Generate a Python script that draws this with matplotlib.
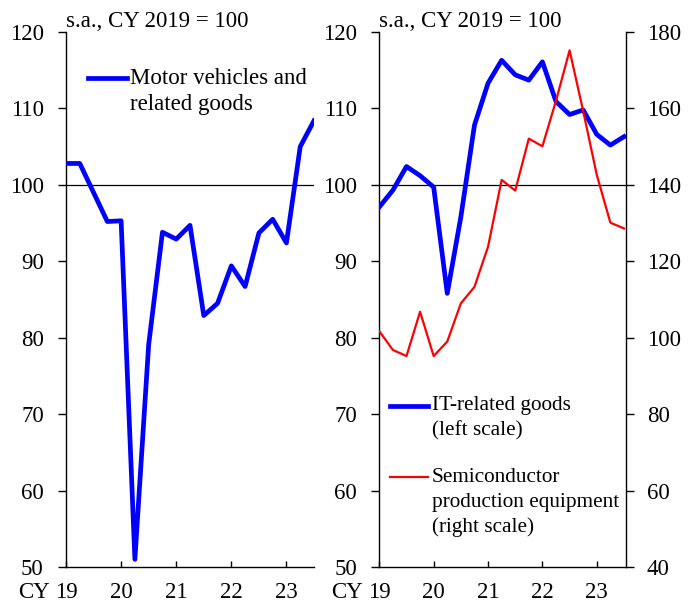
import matplotlib
matplotlib.use("Agg")
import matplotlib.pyplot as plt
from matplotlib.transforms import blended_transform_factory, offset_copy

plt.rcParams['font.family'] = ['Liberation Serif', 'DejaVu Serif']
FS = 16.5
FS_LEG2 = 15.3
XPAD = 11

# quarterly, CY2019 Q1 .. CY2023 Q3 (s.a., CY 2019 = 100)
quarters = list(range(19))
motor = [102.8, 102.8, 99.0, 95.2, 95.3, 51.0, 79.1, 93.8, 92.9, 94.7,
         82.9, 84.5, 89.4, 86.7, 93.7, 95.5, 92.4, 105.0, 108.4]
it_goods = [97.1, 99.3, 102.4, 101.2, 99.7, 85.8, 95.8, 107.8, 113.3, 116.3,
            114.4, 113.7, 116.1, 110.9, 109.2, 109.8, 106.6, 105.2, 106.3]
semicon = [101.7, 96.8, 95.2, 106.8, 95.2, 99.0, 109.0, 113.3, 123.8, 141.3,
           138.5, 152.1, 150.1, 162.0, 175.2, 159.3, 142.6, 130.1, 128.6]
year_ticks = [0, 4, 8, 12, 16]
year_labels = ['19', '20', '21', '22', '23']
left_ticks = [50, 60, 70, 80, 90, 100, 110, 120]
right_ticks = [40, 60, 80, 100, 120, 140, 160, 180]

fig = plt.figure(figsize=(6.91, 6.03), dpi=100)
ax1 = fig.add_axes([66 / 691, 1 - 567 / 603, 248 / 691, 535 / 603])
ax2 = fig.add_axes([379.3 / 691, 1 - 567 / 603, 246.7 / 691, 535 / 603])


def style_axis(ax, xmax):
    ax.set_xlim(0, xmax)
    ax.set_ylim(50, 120)
    ax.set_yticks(left_ticks)
    ax.set_xticks(year_ticks)
    ax.set_xticklabels(year_labels)
    ax.spines['top'].set_visible(False)
    ax.spines['right'].set_visible(False)
    for s in ax.spines.values():
        s.set_linewidth(1.0)
    ax.tick_params(axis='y', direction='out', length=6, width=1.0, pad=10,
                   labelsize=FS)
    ax.tick_params(axis='x', direction='in', length=4, width=1.0, pad=XPAD,
                   labelsize=FS)
    ax.axhline(100, color='black', linewidth=0.9, zorder=1)
    ax.text(0.0, 1.0, 's.a., CY 2019 = 100', transform=ax.transAxes,
            fontsize=FS, ha='left', va='bottom')
    tr = offset_copy(blended_transform_factory(ax.transData, ax.transAxes),
                     fig=fig, y=-XPAD, units='points')
    ax.text(-1.2, 0, 'CY', transform=tr, fontsize=FS, ha='right', va='top')


# left panel: motor vehicles
style_axis(ax1, 18)
ax1.plot(quarters, motor, color='#0000FF', linewidth=3.4, zorder=3)
ax1.plot([0.089, 0.246], [0.914, 0.914], color='#0000FF', linewidth=3.4,
         transform=ax1.transAxes)
ax1.text(0.258, 0.914, 'Motor vehicles and', transform=ax1.transAxes,
         fontsize=FS, va='center', ha='left')
ax1.text(0.258, 0.864, 'related goods', transform=ax1.transAxes,
         fontsize=FS, va='center', ha='left')

# right panel: IT-related goods and semiconductor equipment
style_axis(ax2, 18.15)
ax2.plot(quarters, it_goods, color='#0000FF', linewidth=3.4, zorder=3)
ax2r = ax2.twinx()
ax2r.set_position(ax2.get_position())
ax2r.set_ylim(40, 180)
ax2r.set_yticks(right_ticks)
ax2r.spines['top'].set_visible(False)
ax2r.spines['left'].set_visible(False)
ax2r.spines['bottom'].set_visible(False)
ax2r.spines['right'].set_linewidth(1.0)
ax2r.tick_params(axis='y', direction='out', length=6, width=1.0, pad=9,
                 labelsize=FS)
ax2r.plot(quarters, semicon, color='#FF0000', linewidth=1.6, zorder=2)

ax2.plot([0.044, 0.198], [0.301, 0.301], color='#0000FF', linewidth=3.4,
         transform=ax2.transAxes)
ax2.text(0.214, 0.301, 'IT-related goods', transform=ax2.transAxes,
         fontsize=FS_LEG2, va='center', ha='left')
ax2.text(0.214, 0.255, '(left scale)', transform=ax2.transAxes,
         fontsize=FS_LEG2, va='center', ha='left')
ax2.plot([0.044, 0.198], [0.168, 0.168], color='#FF0000', linewidth=1.6,
         transform=ax2.transAxes)
ax2.text(0.214, 0.168, 'Semiconductor', transform=ax2.transAxes,
         fontsize=FS_LEG2, va='center', ha='left')
ax2.text(0.214, 0.121, 'production equipment', transform=ax2.transAxes,
         fontsize=FS_LEG2, va='center', ha='left')
ax2.text(0.214, 0.075, '(right scale)', transform=ax2.transAxes,
         fontsize=FS_LEG2, va='center', ha='left')

fig.savefig('out.png', dpi=100)
